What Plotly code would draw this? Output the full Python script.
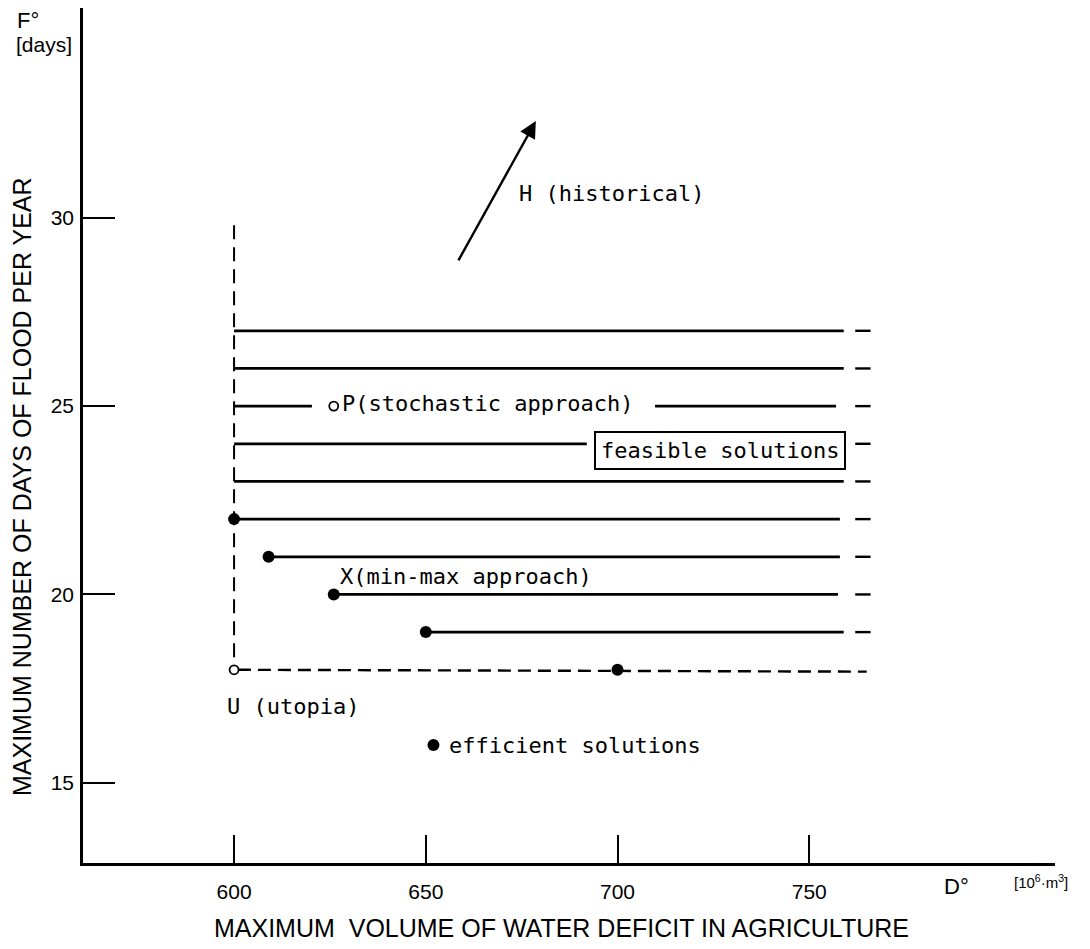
import plotly.graph_objects as go

# ---- axis ticks -------------------------------------------------------------
d_ticks = [600, 650, 700, 750]          # D° : max volume of water deficit [10^6 m^3]
f_ticks = [15, 20, 25, 30]              # F° : max number of flood days per year

# ---- horizontal lines of the feasible region (one per F level) -----------------
level_F = [27, 26, 25, 24, 23, 22, 21, 20, 19]
level_start_D = [600, 600, 600, 600, 600, 600, 609, 626, 650]
level_end_D = [759, 759, 757, 692, 759, 758, 758, 757.5, 759]
tail_dash_D = [762, 766]                # short dash continuing each line

# ---- efficient solutions, utopia, special points ------------------------------
eff_D = [600, 609, 626, 650, 700]
eff_F = [22, 21, 20, 19, 18]
utopia_D, utopia_F = 600, 18
P_D, P_F = 626, 25                      # stochastic approach
X_D, X_F = 626, 20                      # min-max approach
H_tail = (658.3, 28.83)                 # direction towards the historical point
H_head = (678.7, 32.57)
legend_D, legend_F = 652, 16.0

# plot area in pixels (for paper-referenced labels)
L, R, T, B = 83, 1055, 8, 863
W, H = 1090, 949


def px(x):
    return (x - L) / (R - L)


def py(y):
    return (B - y) / (B - T)


ink = "black"
mono = "DejaVu Sans Mono"
sans = "Liberation Sans"

fig = go.Figure()

# solid horizontal lines, line 25 interrupted for its label, line 24 stops at the box
gap_P = (620.3, 709.8)
sx, sy = [], []
for f, d0, d1 in zip(level_F, level_start_D, level_end_D):
    if f == P_F:
        sx += [d0, gap_P[0], None, gap_P[1], d1, None]
        sy += [f, f, None, f, f, None]
    else:
        sx += [d0, d1, None]
        sy += [f, f, None]
fig.add_trace(go.Scatter(x=sx, y=sy, mode="lines",
                         line=dict(color=ink, width=2.7), hoverinfo="skip"))

# short dashes beyond the right end of each line
tx, ty = [], []
for f in level_F:
    tx += [tail_dash_D[0], tail_dash_D[1], None]
    ty += [f, f, None]
fig.add_trace(go.Scatter(x=tx, y=ty, mode="lines",
                         line=dict(color=ink, width=2.4), hoverinfo="skip"))

# dashed boundaries through the utopia point
fig.add_trace(go.Scatter(x=[utopia_D, utopia_D], y=[29.8, utopia_F + 0.15], mode="lines",
                         line=dict(color=ink, width=2, dash="14px,8px"), hoverinfo="skip"))
fig.add_trace(go.Scatter(x=[utopia_D + 1, 765], y=[utopia_F, utopia_F - 0.05], mode="lines",
                         line=dict(color=ink, width=2.4, dash="13px,7px"), hoverinfo="skip"))

# efficient solutions
fig.add_trace(go.Scatter(x=eff_D + [legend_D], y=eff_F + [legend_F], mode="markers",
                         marker=dict(color=ink, size=12), hoverinfo="skip"))

# utopia and stochastic solution (open circles)
fig.add_trace(go.Scatter(x=[utopia_D, P_D], y=[utopia_F, P_F], mode="markers",
                         marker=dict(color="white", size=9, line=dict(color=ink, width=1.8)),
                         hoverinfo="skip"))

ann = []
# point labels
lab = dict(font=dict(family=mono, size=22, color=ink), showarrow=False,
           xanchor="left", yanchor="middle")
ann.append(dict(x=673.8, y=30.65, text="H (historical)", **lab))
ann.append(dict(x=P_D + 1.6, y=P_F + 0.08, text="P(stochastic approach)", **lab))
ann.append(dict(x=X_D + 1.2, y=X_F + 0.47, text="X(min-max approach)", **lab))
ann.append(dict(x=utopia_D - 2.3, y=utopia_F - 0.98, text="U (utopia)", **lab))
ann.append(dict(x=legend_D + 3.6, y=legend_F, text="efficient solutions", **lab))
ann.append(dict(x=726.6, y=23.81, text="feasible solutions",
                font=dict(family=mono, size=22, color=ink), showarrow=False,
                bordercolor=ink, borderwidth=2, borderpad=5,
                xanchor="center", yanchor="middle"))

# arrow towards the historical solution
ann.append(dict(x=H_head[0], y=H_head[1], ax=H_tail[0], ay=H_tail[1],
                xref="x", yref="y", axref="x", ayref="y", text="",
                showarrow=True, arrowhead=2, arrowsize=1.4, arrowwidth=2.4,
                arrowcolor=ink))

# axis titles and units
ttl = dict(xref="paper", yref="paper", showarrow=False)
ann.append(dict(x=px(22), y=py(487), text="MAXIMUM NUMBER OF DAYS OF FLOOD PER YEAR",
                textangle=-90, xanchor="center", yanchor="middle",
                font=dict(family=sans, size=25, color=ink), **ttl))
ann.append(dict(x=px(561), y=py(928), text="MAXIMUM\u00a0 VOLUME OF WATER DEFICIT IN AGRICULTURE",
                xanchor="center", yanchor="middle",
                font=dict(family=sans, size=25, color=ink), **ttl))
ann.append(dict(x=px(15), y=py(20), text="F°", xanchor="left", yanchor="middle",
                font=dict(family=sans, size=22, color=ink), **ttl))
ann.append(dict(x=px(14), y=py(45), text="[days]", xanchor="left", yanchor="middle",
                font=dict(family=sans, size=21, color=ink), **ttl))
ann.append(dict(x=px(942), y=py(886), text="D°", xanchor="left", yanchor="middle",
                font=dict(family=sans, size=22, color=ink), **ttl))
ann.append(dict(x=px(1012), y=py(882), text="[10<sup>6</sup>·m<sup>3</sup>]",
                xanchor="left", yanchor="middle",
                font=dict(family=sans, size=15, color=ink), **ttl))

fig.update_layout(
    width=W, height=H,
    margin=dict(l=L, r=W - R, t=T, b=H - B),
    paper_bgcolor="white", plot_bgcolor="white",
    showlegend=False,
    annotations=ann,
    xaxis=dict(range=[560.6, 814.1], tickvals=d_ticks, ticks="inside", ticklen=28,
               tickwidth=2, tickcolor=ink, showline=True, linecolor=ink, linewidth=2.6,
               showgrid=False, zeroline=False, ticklabelstandoff=8,
               tickfont=dict(family=sans, size=21, color=ink)),
    yaxis=dict(range=[12.87, 35.57], tickvals=f_ticks, ticks="inside", ticklen=32,
               tickwidth=2, tickcolor=ink, showline=True, linecolor=ink, linewidth=2.6,
               showgrid=False, zeroline=False, ticklabelstandoff=2,
               tickfont=dict(family=sans, size=21, color=ink)),
)

fig.write_html("out.html")
